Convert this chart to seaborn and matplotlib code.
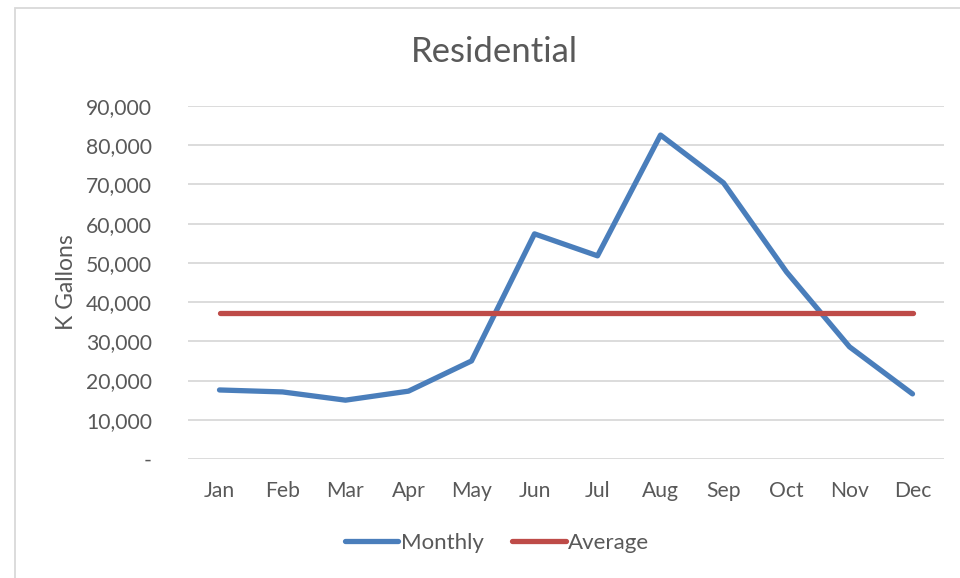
import matplotlib
matplotlib.use("Agg")
import matplotlib.pyplot as plt
import seaborn as sns
import pandas as pd
from matplotlib.patches import Rectangle
from matplotlib.ticker import FuncFormatter

months = ["Jan", "Feb", "Mar", "Apr", "May", "Jun", "Jul", "Aug", "Sep", "Oct", "Nov", "Dec"]
monthly = [17600, 17100, 15000, 17300, 25000, 57400, 51800, 82600, 70400, 47700, 28600, 16600]
average = [37260] * 12

df = pd.DataFrame({
    "Month": months * 2,
    "Value": monthly + average,
    "Series": ["Monthly"] * 12 + ["Average"] * 12,
})

sns.set_theme(style="white")
plt.rcParams["font.family"] = ["Lato", "DejaVu Sans"]
text_color = "#595959"

W, H = 960, 578
fig = plt.figure(figsize=(W / 100, H / 100), dpi=100)
ax = fig.add_axes([188 / W, 1 - 459 / H, (944 - 188) / W, (459 - 106) / H])

sns.lineplot(data=df, x="Month", y="Value", hue="Series",
             palette={"Monthly": "#4A7EBB", "Average": "#BE4B48"},
             linewidth=3.8, ax=ax, sort=False, legend=True)

ax.set_xlim(-0.5, 11.5)
ax.set_ylim(0, 90000)
ax.set_yticks(range(0, 90001, 10000))
ax.yaxis.set_major_formatter(FuncFormatter(lambda v, p: "-" if v == 0 else f"{int(v):,}"))
ax.grid(axis="y", color="#D9D9D9", linewidth=1.3)
ax.set_axisbelow(True)
for s in ax.spines.values():
    s.set_visible(False)
ax.tick_params(axis="both", length=0, labelsize=15.2, labelcolor=text_color)
ax.tick_params(axis="y", pad=26)
ax.tick_params(axis="x", pad=15.5)
ax.set_xlabel("")
ax.set_ylabel("K Gallons", fontsize=16.5, color=text_color)
ax.yaxis.set_label_coords(-111 / (944 - 188), 0.5)

fig.text(494 / W, 1 - 52 / H, "Residential", ha="center", va="center",
         fontsize=25, color=text_color)

handles, labels = ax.get_legend_handles_labels()
leg = ax.legend(handles, labels, loc="center", bbox_to_anchor=(497 / W, 1 - 543 / H),
                bbox_transform=fig.transFigure, ncol=2, frameon=False,
                fontsize=16, handlelength=2.4, handletextpad=0.1, columnspacing=1.3,
                labelcolor=text_color)
for line in leg.get_lines():
    line.set_linewidth(3.8)
    line.set_solid_capstyle("round")

fig.add_artist(Rectangle((15 / W, -0.1), 1.2, 1 - 8 / H + 0.1, transform=fig.transFigure,
                         fill=False, edgecolor="#D9D9D9", linewidth=1.3, clip_on=False))

fig.savefig("out.png", dpi=100)
